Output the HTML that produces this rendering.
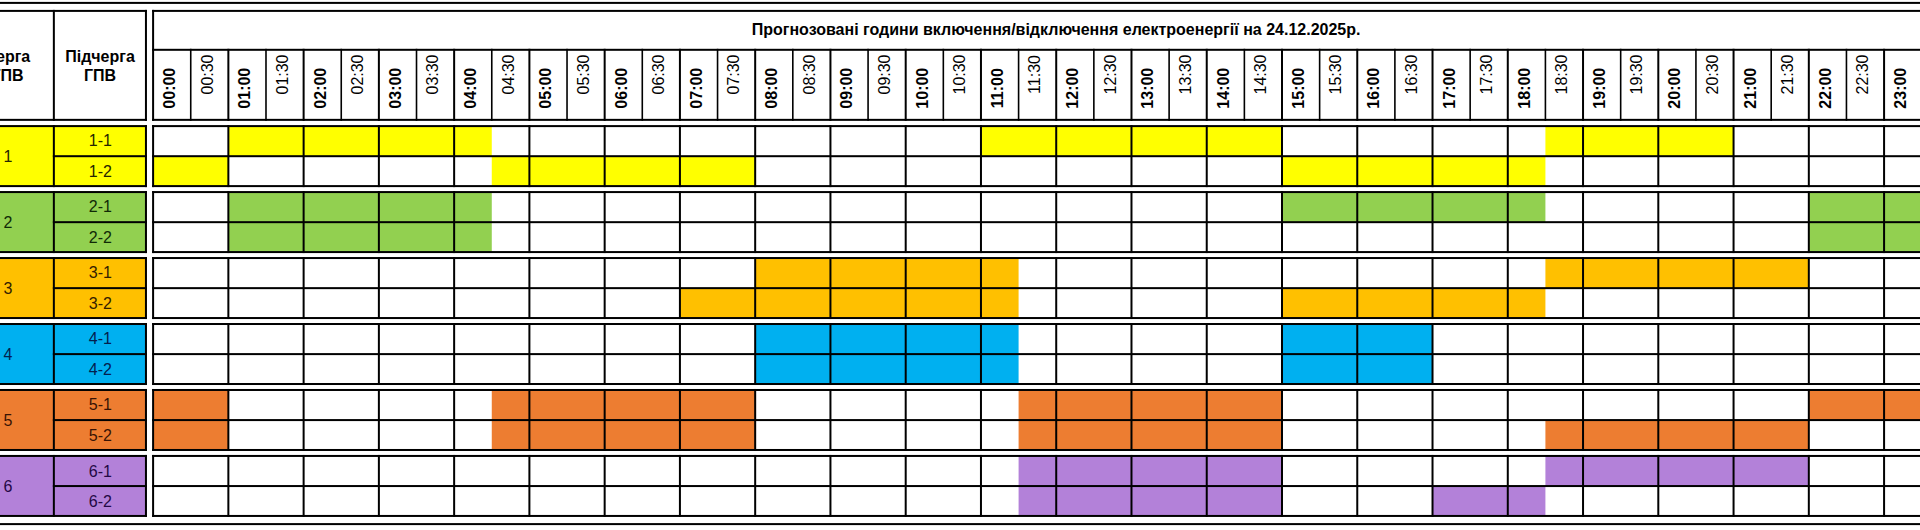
<!DOCTYPE html>
<html lang="uk"><head><meta charset="utf-8"><title>Графік</title>
<style>
html,body{margin:0;padding:0;background:#fff;}
body{width:1920px;height:530px;overflow:hidden;}
svg{display:block;font-family:"Liberation Sans",Arial,sans-serif;fill:#000;}
</style></head><body>
<svg width="1920" height="530" viewBox="0 0 1920 530">
<rect x="0" y="0" width="1920" height="530" fill="#fff"/>
<g>
<rect x="-40.00" y="1.90" width="2001.00" height="2.00" fill="#000"/>
<rect x="-40.00" y="523.10" width="2001.00" height="2.00" fill="#000"/>
<rect x="-40.00" y="125.15" width="186.95" height="60.80" fill="#FFFF00"/>
<rect x="228.36" y="126.15" width="263.41" height="30.00" fill="#FFFF00"/>
<rect x="980.96" y="126.15" width="301.04" height="30.00" fill="#FFFF00"/>
<rect x="1545.41" y="126.15" width="188.15" height="30.00" fill="#FFFF00"/>
<rect x="153.10" y="156.15" width="75.26" height="29.80" fill="#FFFF00"/>
<rect x="491.77" y="156.15" width="263.41" height="29.80" fill="#FFFF00"/>
<rect x="1282.00" y="156.15" width="263.41" height="29.80" fill="#FFFF00"/>
<rect x="-40.00" y="191.12" width="186.95" height="60.80" fill="#92D050"/>
<rect x="228.36" y="192.12" width="263.41" height="30.00" fill="#92D050"/>
<rect x="1282.00" y="192.12" width="263.41" height="30.00" fill="#92D050"/>
<rect x="1808.82" y="192.12" width="150.52" height="30.00" fill="#92D050"/>
<rect x="228.36" y="222.12" width="263.41" height="29.80" fill="#92D050"/>
<rect x="1808.82" y="222.12" width="150.52" height="29.80" fill="#92D050"/>
<rect x="-40.00" y="257.09" width="186.95" height="60.80" fill="#FFC000"/>
<rect x="755.18" y="258.09" width="263.41" height="30.00" fill="#FFC000"/>
<rect x="1545.41" y="258.09" width="263.41" height="30.00" fill="#FFC000"/>
<rect x="679.92" y="288.09" width="338.67" height="29.80" fill="#FFC000"/>
<rect x="1282.00" y="288.09" width="263.41" height="29.80" fill="#FFC000"/>
<rect x="-40.00" y="323.06" width="186.95" height="60.80" fill="#00B0F0"/>
<rect x="755.18" y="324.06" width="263.41" height="30.00" fill="#00B0F0"/>
<rect x="1282.00" y="324.06" width="150.52" height="30.00" fill="#00B0F0"/>
<rect x="755.18" y="354.06" width="263.41" height="29.80" fill="#00B0F0"/>
<rect x="1282.00" y="354.06" width="150.52" height="29.80" fill="#00B0F0"/>
<rect x="-40.00" y="389.03" width="186.95" height="60.80" fill="#ED7D31"/>
<rect x="153.10" y="390.03" width="75.26" height="30.00" fill="#ED7D31"/>
<rect x="491.77" y="390.03" width="263.41" height="30.00" fill="#ED7D31"/>
<rect x="1018.59" y="390.03" width="263.41" height="30.00" fill="#ED7D31"/>
<rect x="1808.82" y="390.03" width="150.52" height="30.00" fill="#ED7D31"/>
<rect x="153.10" y="420.03" width="75.26" height="29.80" fill="#ED7D31"/>
<rect x="491.77" y="420.03" width="263.41" height="29.80" fill="#ED7D31"/>
<rect x="1018.59" y="420.03" width="263.41" height="29.80" fill="#ED7D31"/>
<rect x="1545.41" y="420.03" width="263.41" height="29.80" fill="#ED7D31"/>
<rect x="-40.00" y="455.00" width="186.95" height="60.80" fill="#B381D9"/>
<rect x="1018.59" y="456.00" width="263.41" height="30.00" fill="#B381D9"/>
<rect x="1545.41" y="456.00" width="263.41" height="30.00" fill="#B381D9"/>
<rect x="1018.59" y="486.00" width="263.41" height="29.80" fill="#B381D9"/>
<rect x="1432.52" y="486.00" width="112.89" height="29.80" fill="#B381D9"/>
<rect x="-40.00" y="9.90" width="186.95" height="2.00" fill="#000"/>
<rect x="-40.00" y="118.85" width="186.95" height="2.00" fill="#000"/>
<rect x="52.85" y="9.90" width="2.00" height="110.95" fill="#000"/>
<rect x="144.95" y="9.90" width="2.00" height="110.95" fill="#000"/>
<rect x="152.10" y="9.90" width="1808.90" height="2.00" fill="#000"/>
<rect x="152.10" y="118.85" width="1808.90" height="2.00" fill="#000"/>
<rect x="152.10" y="48.80" width="1808.90" height="2.00" fill="#000"/>
<rect x="152.10" y="9.90" width="2.00" height="110.95" fill="#000"/>
<rect x="227.36" y="48.80" width="2.00" height="72.05" fill="#000"/>
<rect x="302.62" y="48.80" width="2.00" height="72.05" fill="#000"/>
<rect x="377.88" y="48.80" width="2.00" height="72.05" fill="#000"/>
<rect x="453.14" y="48.80" width="2.00" height="72.05" fill="#000"/>
<rect x="528.40" y="48.80" width="2.00" height="72.05" fill="#000"/>
<rect x="603.66" y="48.80" width="2.00" height="72.05" fill="#000"/>
<rect x="678.92" y="48.80" width="2.00" height="72.05" fill="#000"/>
<rect x="754.18" y="48.80" width="2.00" height="72.05" fill="#000"/>
<rect x="829.44" y="48.80" width="2.00" height="72.05" fill="#000"/>
<rect x="904.70" y="48.80" width="2.00" height="72.05" fill="#000"/>
<rect x="979.96" y="48.80" width="2.00" height="72.05" fill="#000"/>
<rect x="1055.22" y="48.80" width="2.00" height="72.05" fill="#000"/>
<rect x="1130.48" y="48.80" width="2.00" height="72.05" fill="#000"/>
<rect x="1205.74" y="48.80" width="2.00" height="72.05" fill="#000"/>
<rect x="1281.00" y="48.80" width="2.00" height="72.05" fill="#000"/>
<rect x="1356.26" y="48.80" width="2.00" height="72.05" fill="#000"/>
<rect x="1431.52" y="48.80" width="2.00" height="72.05" fill="#000"/>
<rect x="1506.78" y="48.80" width="2.00" height="72.05" fill="#000"/>
<rect x="1582.04" y="48.80" width="2.00" height="72.05" fill="#000"/>
<rect x="1657.30" y="48.80" width="2.00" height="72.05" fill="#000"/>
<rect x="1732.56" y="48.80" width="2.00" height="72.05" fill="#000"/>
<rect x="1807.82" y="48.80" width="2.00" height="72.05" fill="#000"/>
<rect x="1883.08" y="48.80" width="2.00" height="72.05" fill="#000"/>
<rect x="1958.34" y="48.80" width="2.00" height="72.05" fill="#000"/>
<rect x="189.93" y="48.80" width="1.60" height="72.05" fill="#000"/>
<rect x="265.19" y="48.80" width="1.60" height="72.05" fill="#000"/>
<rect x="340.45" y="48.80" width="1.60" height="72.05" fill="#000"/>
<rect x="415.71" y="48.80" width="1.60" height="72.05" fill="#000"/>
<rect x="490.97" y="48.80" width="1.60" height="72.05" fill="#000"/>
<rect x="566.23" y="48.80" width="1.60" height="72.05" fill="#000"/>
<rect x="641.49" y="48.80" width="1.60" height="72.05" fill="#000"/>
<rect x="716.75" y="48.80" width="1.60" height="72.05" fill="#000"/>
<rect x="792.01" y="48.80" width="1.60" height="72.05" fill="#000"/>
<rect x="867.27" y="48.80" width="1.60" height="72.05" fill="#000"/>
<rect x="942.53" y="48.80" width="1.60" height="72.05" fill="#000"/>
<rect x="1017.79" y="48.80" width="1.60" height="72.05" fill="#000"/>
<rect x="1093.05" y="48.80" width="1.60" height="72.05" fill="#000"/>
<rect x="1168.31" y="48.80" width="1.60" height="72.05" fill="#000"/>
<rect x="1243.57" y="48.80" width="1.60" height="72.05" fill="#000"/>
<rect x="1318.83" y="48.80" width="1.60" height="72.05" fill="#000"/>
<rect x="1394.09" y="48.80" width="1.60" height="72.05" fill="#000"/>
<rect x="1469.35" y="48.80" width="1.60" height="72.05" fill="#000"/>
<rect x="1544.61" y="48.80" width="1.60" height="72.05" fill="#000"/>
<rect x="1619.87" y="48.80" width="1.60" height="72.05" fill="#000"/>
<rect x="1695.13" y="48.80" width="1.60" height="72.05" fill="#000"/>
<rect x="1770.39" y="48.80" width="1.60" height="72.05" fill="#000"/>
<rect x="1845.65" y="48.80" width="1.60" height="72.05" fill="#000"/>
<rect x="1920.91" y="48.80" width="1.60" height="72.05" fill="#000"/>
<rect x="-40.00" y="125.10" width="186.95" height="2.00" fill="#000"/>
<rect x="-40.00" y="185.10" width="186.95" height="2.00" fill="#000"/>
<rect x="52.85" y="125.10" width="2.00" height="62.00" fill="#000"/>
<rect x="144.95" y="125.10" width="2.00" height="62.00" fill="#000"/>
<rect x="52.85" y="155.20" width="94.10" height="2.00" fill="#000"/>
<rect x="152.10" y="125.10" width="1808.90" height="2.00" fill="#000"/>
<rect x="152.10" y="185.10" width="1808.90" height="2.00" fill="#000"/>
<rect x="152.10" y="155.20" width="1808.90" height="2.00" fill="#000"/>
<rect x="152.10" y="125.10" width="2.00" height="62.00" fill="#000"/>
<rect x="227.36" y="125.10" width="2.00" height="62.00" fill="#000"/>
<rect x="302.62" y="125.10" width="2.00" height="62.00" fill="#000"/>
<rect x="377.88" y="125.10" width="2.00" height="62.00" fill="#000"/>
<rect x="453.14" y="125.10" width="2.00" height="62.00" fill="#000"/>
<rect x="528.40" y="125.10" width="2.00" height="62.00" fill="#000"/>
<rect x="603.66" y="125.10" width="2.00" height="62.00" fill="#000"/>
<rect x="678.92" y="125.10" width="2.00" height="62.00" fill="#000"/>
<rect x="754.18" y="125.10" width="2.00" height="62.00" fill="#000"/>
<rect x="829.44" y="125.10" width="2.00" height="62.00" fill="#000"/>
<rect x="904.70" y="125.10" width="2.00" height="62.00" fill="#000"/>
<rect x="979.96" y="125.10" width="2.00" height="62.00" fill="#000"/>
<rect x="1055.22" y="125.10" width="2.00" height="62.00" fill="#000"/>
<rect x="1130.48" y="125.10" width="2.00" height="62.00" fill="#000"/>
<rect x="1205.74" y="125.10" width="2.00" height="62.00" fill="#000"/>
<rect x="1281.00" y="125.10" width="2.00" height="62.00" fill="#000"/>
<rect x="1356.26" y="125.10" width="2.00" height="62.00" fill="#000"/>
<rect x="1431.52" y="125.10" width="2.00" height="62.00" fill="#000"/>
<rect x="1506.78" y="125.10" width="2.00" height="62.00" fill="#000"/>
<rect x="1582.04" y="125.10" width="2.00" height="62.00" fill="#000"/>
<rect x="1657.30" y="125.10" width="2.00" height="62.00" fill="#000"/>
<rect x="1732.56" y="125.10" width="2.00" height="62.00" fill="#000"/>
<rect x="1807.82" y="125.10" width="2.00" height="62.00" fill="#000"/>
<rect x="1883.08" y="125.10" width="2.00" height="62.00" fill="#000"/>
<rect x="1958.34" y="125.10" width="2.00" height="62.00" fill="#000"/>
<rect x="-40.00" y="191.07" width="186.95" height="2.00" fill="#000"/>
<rect x="-40.00" y="251.07" width="186.95" height="2.00" fill="#000"/>
<rect x="52.85" y="191.07" width="2.00" height="62.00" fill="#000"/>
<rect x="144.95" y="191.07" width="2.00" height="62.00" fill="#000"/>
<rect x="52.85" y="221.17" width="94.10" height="2.00" fill="#000"/>
<rect x="152.10" y="191.07" width="1808.90" height="2.00" fill="#000"/>
<rect x="152.10" y="251.07" width="1808.90" height="2.00" fill="#000"/>
<rect x="152.10" y="221.17" width="1808.90" height="2.00" fill="#000"/>
<rect x="152.10" y="191.07" width="2.00" height="62.00" fill="#000"/>
<rect x="227.36" y="191.07" width="2.00" height="62.00" fill="#000"/>
<rect x="302.62" y="191.07" width="2.00" height="62.00" fill="#000"/>
<rect x="377.88" y="191.07" width="2.00" height="62.00" fill="#000"/>
<rect x="453.14" y="191.07" width="2.00" height="62.00" fill="#000"/>
<rect x="528.40" y="191.07" width="2.00" height="62.00" fill="#000"/>
<rect x="603.66" y="191.07" width="2.00" height="62.00" fill="#000"/>
<rect x="678.92" y="191.07" width="2.00" height="62.00" fill="#000"/>
<rect x="754.18" y="191.07" width="2.00" height="62.00" fill="#000"/>
<rect x="829.44" y="191.07" width="2.00" height="62.00" fill="#000"/>
<rect x="904.70" y="191.07" width="2.00" height="62.00" fill="#000"/>
<rect x="979.96" y="191.07" width="2.00" height="62.00" fill="#000"/>
<rect x="1055.22" y="191.07" width="2.00" height="62.00" fill="#000"/>
<rect x="1130.48" y="191.07" width="2.00" height="62.00" fill="#000"/>
<rect x="1205.74" y="191.07" width="2.00" height="62.00" fill="#000"/>
<rect x="1281.00" y="191.07" width="2.00" height="62.00" fill="#000"/>
<rect x="1356.26" y="191.07" width="2.00" height="62.00" fill="#000"/>
<rect x="1431.52" y="191.07" width="2.00" height="62.00" fill="#000"/>
<rect x="1506.78" y="191.07" width="2.00" height="62.00" fill="#000"/>
<rect x="1582.04" y="191.07" width="2.00" height="62.00" fill="#000"/>
<rect x="1657.30" y="191.07" width="2.00" height="62.00" fill="#000"/>
<rect x="1732.56" y="191.07" width="2.00" height="62.00" fill="#000"/>
<rect x="1807.82" y="191.07" width="2.00" height="62.00" fill="#000"/>
<rect x="1883.08" y="191.07" width="2.00" height="62.00" fill="#000"/>
<rect x="1958.34" y="191.07" width="2.00" height="62.00" fill="#000"/>
<rect x="-40.00" y="257.04" width="186.95" height="2.00" fill="#000"/>
<rect x="-40.00" y="317.04" width="186.95" height="2.00" fill="#000"/>
<rect x="52.85" y="257.04" width="2.00" height="62.00" fill="#000"/>
<rect x="144.95" y="257.04" width="2.00" height="62.00" fill="#000"/>
<rect x="52.85" y="287.14" width="94.10" height="2.00" fill="#000"/>
<rect x="152.10" y="257.04" width="1808.90" height="2.00" fill="#000"/>
<rect x="152.10" y="317.04" width="1808.90" height="2.00" fill="#000"/>
<rect x="152.10" y="287.14" width="1808.90" height="2.00" fill="#000"/>
<rect x="152.10" y="257.04" width="2.00" height="62.00" fill="#000"/>
<rect x="227.36" y="257.04" width="2.00" height="62.00" fill="#000"/>
<rect x="302.62" y="257.04" width="2.00" height="62.00" fill="#000"/>
<rect x="377.88" y="257.04" width="2.00" height="62.00" fill="#000"/>
<rect x="453.14" y="257.04" width="2.00" height="62.00" fill="#000"/>
<rect x="528.40" y="257.04" width="2.00" height="62.00" fill="#000"/>
<rect x="603.66" y="257.04" width="2.00" height="62.00" fill="#000"/>
<rect x="678.92" y="257.04" width="2.00" height="62.00" fill="#000"/>
<rect x="754.18" y="257.04" width="2.00" height="62.00" fill="#000"/>
<rect x="829.44" y="257.04" width="2.00" height="62.00" fill="#000"/>
<rect x="904.70" y="257.04" width="2.00" height="62.00" fill="#000"/>
<rect x="979.96" y="257.04" width="2.00" height="62.00" fill="#000"/>
<rect x="1055.22" y="257.04" width="2.00" height="62.00" fill="#000"/>
<rect x="1130.48" y="257.04" width="2.00" height="62.00" fill="#000"/>
<rect x="1205.74" y="257.04" width="2.00" height="62.00" fill="#000"/>
<rect x="1281.00" y="257.04" width="2.00" height="62.00" fill="#000"/>
<rect x="1356.26" y="257.04" width="2.00" height="62.00" fill="#000"/>
<rect x="1431.52" y="257.04" width="2.00" height="62.00" fill="#000"/>
<rect x="1506.78" y="257.04" width="2.00" height="62.00" fill="#000"/>
<rect x="1582.04" y="257.04" width="2.00" height="62.00" fill="#000"/>
<rect x="1657.30" y="257.04" width="2.00" height="62.00" fill="#000"/>
<rect x="1732.56" y="257.04" width="2.00" height="62.00" fill="#000"/>
<rect x="1807.82" y="257.04" width="2.00" height="62.00" fill="#000"/>
<rect x="1883.08" y="257.04" width="2.00" height="62.00" fill="#000"/>
<rect x="1958.34" y="257.04" width="2.00" height="62.00" fill="#000"/>
<rect x="-40.00" y="323.01" width="186.95" height="2.00" fill="#000"/>
<rect x="-40.00" y="383.01" width="186.95" height="2.00" fill="#000"/>
<rect x="52.85" y="323.01" width="2.00" height="62.00" fill="#000"/>
<rect x="144.95" y="323.01" width="2.00" height="62.00" fill="#000"/>
<rect x="52.85" y="353.11" width="94.10" height="2.00" fill="#000"/>
<rect x="152.10" y="323.01" width="1808.90" height="2.00" fill="#000"/>
<rect x="152.10" y="383.01" width="1808.90" height="2.00" fill="#000"/>
<rect x="152.10" y="353.11" width="1808.90" height="2.00" fill="#000"/>
<rect x="152.10" y="323.01" width="2.00" height="62.00" fill="#000"/>
<rect x="227.36" y="323.01" width="2.00" height="62.00" fill="#000"/>
<rect x="302.62" y="323.01" width="2.00" height="62.00" fill="#000"/>
<rect x="377.88" y="323.01" width="2.00" height="62.00" fill="#000"/>
<rect x="453.14" y="323.01" width="2.00" height="62.00" fill="#000"/>
<rect x="528.40" y="323.01" width="2.00" height="62.00" fill="#000"/>
<rect x="603.66" y="323.01" width="2.00" height="62.00" fill="#000"/>
<rect x="678.92" y="323.01" width="2.00" height="62.00" fill="#000"/>
<rect x="754.18" y="323.01" width="2.00" height="62.00" fill="#000"/>
<rect x="829.44" y="323.01" width="2.00" height="62.00" fill="#000"/>
<rect x="904.70" y="323.01" width="2.00" height="62.00" fill="#000"/>
<rect x="979.96" y="323.01" width="2.00" height="62.00" fill="#000"/>
<rect x="1055.22" y="323.01" width="2.00" height="62.00" fill="#000"/>
<rect x="1130.48" y="323.01" width="2.00" height="62.00" fill="#000"/>
<rect x="1205.74" y="323.01" width="2.00" height="62.00" fill="#000"/>
<rect x="1281.00" y="323.01" width="2.00" height="62.00" fill="#000"/>
<rect x="1356.26" y="323.01" width="2.00" height="62.00" fill="#000"/>
<rect x="1431.52" y="323.01" width="2.00" height="62.00" fill="#000"/>
<rect x="1506.78" y="323.01" width="2.00" height="62.00" fill="#000"/>
<rect x="1582.04" y="323.01" width="2.00" height="62.00" fill="#000"/>
<rect x="1657.30" y="323.01" width="2.00" height="62.00" fill="#000"/>
<rect x="1732.56" y="323.01" width="2.00" height="62.00" fill="#000"/>
<rect x="1807.82" y="323.01" width="2.00" height="62.00" fill="#000"/>
<rect x="1883.08" y="323.01" width="2.00" height="62.00" fill="#000"/>
<rect x="1958.34" y="323.01" width="2.00" height="62.00" fill="#000"/>
<rect x="-40.00" y="388.98" width="186.95" height="2.00" fill="#000"/>
<rect x="-40.00" y="448.98" width="186.95" height="2.00" fill="#000"/>
<rect x="52.85" y="388.98" width="2.00" height="62.00" fill="#000"/>
<rect x="144.95" y="388.98" width="2.00" height="62.00" fill="#000"/>
<rect x="52.85" y="419.08" width="94.10" height="2.00" fill="#000"/>
<rect x="152.10" y="388.98" width="1808.90" height="2.00" fill="#000"/>
<rect x="152.10" y="448.98" width="1808.90" height="2.00" fill="#000"/>
<rect x="152.10" y="419.08" width="1808.90" height="2.00" fill="#000"/>
<rect x="152.10" y="388.98" width="2.00" height="62.00" fill="#000"/>
<rect x="227.36" y="388.98" width="2.00" height="62.00" fill="#000"/>
<rect x="302.62" y="388.98" width="2.00" height="62.00" fill="#000"/>
<rect x="377.88" y="388.98" width="2.00" height="62.00" fill="#000"/>
<rect x="453.14" y="388.98" width="2.00" height="62.00" fill="#000"/>
<rect x="528.40" y="388.98" width="2.00" height="62.00" fill="#000"/>
<rect x="603.66" y="388.98" width="2.00" height="62.00" fill="#000"/>
<rect x="678.92" y="388.98" width="2.00" height="62.00" fill="#000"/>
<rect x="754.18" y="388.98" width="2.00" height="62.00" fill="#000"/>
<rect x="829.44" y="388.98" width="2.00" height="62.00" fill="#000"/>
<rect x="904.70" y="388.98" width="2.00" height="62.00" fill="#000"/>
<rect x="979.96" y="388.98" width="2.00" height="62.00" fill="#000"/>
<rect x="1055.22" y="388.98" width="2.00" height="62.00" fill="#000"/>
<rect x="1130.48" y="388.98" width="2.00" height="62.00" fill="#000"/>
<rect x="1205.74" y="388.98" width="2.00" height="62.00" fill="#000"/>
<rect x="1281.00" y="388.98" width="2.00" height="62.00" fill="#000"/>
<rect x="1356.26" y="388.98" width="2.00" height="62.00" fill="#000"/>
<rect x="1431.52" y="388.98" width="2.00" height="62.00" fill="#000"/>
<rect x="1506.78" y="388.98" width="2.00" height="62.00" fill="#000"/>
<rect x="1582.04" y="388.98" width="2.00" height="62.00" fill="#000"/>
<rect x="1657.30" y="388.98" width="2.00" height="62.00" fill="#000"/>
<rect x="1732.56" y="388.98" width="2.00" height="62.00" fill="#000"/>
<rect x="1807.82" y="388.98" width="2.00" height="62.00" fill="#000"/>
<rect x="1883.08" y="388.98" width="2.00" height="62.00" fill="#000"/>
<rect x="1958.34" y="388.98" width="2.00" height="62.00" fill="#000"/>
<rect x="-40.00" y="454.95" width="186.95" height="2.00" fill="#000"/>
<rect x="-40.00" y="514.95" width="186.95" height="2.00" fill="#000"/>
<rect x="52.85" y="454.95" width="2.00" height="62.00" fill="#000"/>
<rect x="144.95" y="454.95" width="2.00" height="62.00" fill="#000"/>
<rect x="52.85" y="485.05" width="94.10" height="2.00" fill="#000"/>
<rect x="152.10" y="454.95" width="1808.90" height="2.00" fill="#000"/>
<rect x="152.10" y="514.95" width="1808.90" height="2.00" fill="#000"/>
<rect x="152.10" y="485.05" width="1808.90" height="2.00" fill="#000"/>
<rect x="152.10" y="454.95" width="2.00" height="62.00" fill="#000"/>
<rect x="227.36" y="454.95" width="2.00" height="62.00" fill="#000"/>
<rect x="302.62" y="454.95" width="2.00" height="62.00" fill="#000"/>
<rect x="377.88" y="454.95" width="2.00" height="62.00" fill="#000"/>
<rect x="453.14" y="454.95" width="2.00" height="62.00" fill="#000"/>
<rect x="528.40" y="454.95" width="2.00" height="62.00" fill="#000"/>
<rect x="603.66" y="454.95" width="2.00" height="62.00" fill="#000"/>
<rect x="678.92" y="454.95" width="2.00" height="62.00" fill="#000"/>
<rect x="754.18" y="454.95" width="2.00" height="62.00" fill="#000"/>
<rect x="829.44" y="454.95" width="2.00" height="62.00" fill="#000"/>
<rect x="904.70" y="454.95" width="2.00" height="62.00" fill="#000"/>
<rect x="979.96" y="454.95" width="2.00" height="62.00" fill="#000"/>
<rect x="1055.22" y="454.95" width="2.00" height="62.00" fill="#000"/>
<rect x="1130.48" y="454.95" width="2.00" height="62.00" fill="#000"/>
<rect x="1205.74" y="454.95" width="2.00" height="62.00" fill="#000"/>
<rect x="1281.00" y="454.95" width="2.00" height="62.00" fill="#000"/>
<rect x="1356.26" y="454.95" width="2.00" height="62.00" fill="#000"/>
<rect x="1431.52" y="454.95" width="2.00" height="62.00" fill="#000"/>
<rect x="1506.78" y="454.95" width="2.00" height="62.00" fill="#000"/>
<rect x="1582.04" y="454.95" width="2.00" height="62.00" fill="#000"/>
<rect x="1657.30" y="454.95" width="2.00" height="62.00" fill="#000"/>
<rect x="1732.56" y="454.95" width="2.00" height="62.00" fill="#000"/>
<rect x="1807.82" y="454.95" width="2.00" height="62.00" fill="#000"/>
<rect x="1883.08" y="454.95" width="2.00" height="62.00" fill="#000"/>
<rect x="1958.34" y="454.95" width="2.00" height="62.00" fill="#000"/>
</g>
<g>
<text x="1056.10" y="35.30" text-anchor="middle" font-size="16" font-weight="bold">Прогнозовані години включення/відключення електроенергії на 24.12.2025р.</text>
<text x="7.50" y="62.10" text-anchor="middle" font-size="16" font-weight="bold">Черга</text>
<text x="7.50" y="81.00" text-anchor="middle" font-size="16" font-weight="bold">ГПВ</text>
<text x="100.00" y="62.10" text-anchor="middle" font-size="16" font-weight="bold">Підчерга</text>
<text x="100.00" y="81.00" text-anchor="middle" font-size="16" font-weight="bold">ГПВ</text>
<text transform="translate(175.10,88.20) rotate(-90)" text-anchor="middle" font-size="16" font-weight="bold">00:00</text>
<text transform="translate(212.53,74.50) rotate(-90)" text-anchor="middle" font-size="16">00:30</text>
<text transform="translate(250.36,88.20) rotate(-90)" text-anchor="middle" font-size="16" font-weight="bold">01:00</text>
<text transform="translate(287.79,74.50) rotate(-90)" text-anchor="middle" font-size="16">01:30</text>
<text transform="translate(325.62,88.20) rotate(-90)" text-anchor="middle" font-size="16" font-weight="bold">02:00</text>
<text transform="translate(363.05,74.50) rotate(-90)" text-anchor="middle" font-size="16">02:30</text>
<text transform="translate(400.88,88.20) rotate(-90)" text-anchor="middle" font-size="16" font-weight="bold">03:00</text>
<text transform="translate(438.31,74.50) rotate(-90)" text-anchor="middle" font-size="16">03:30</text>
<text transform="translate(476.14,88.20) rotate(-90)" text-anchor="middle" font-size="16" font-weight="bold">04:00</text>
<text transform="translate(513.57,74.50) rotate(-90)" text-anchor="middle" font-size="16">04:30</text>
<text transform="translate(551.40,88.20) rotate(-90)" text-anchor="middle" font-size="16" font-weight="bold">05:00</text>
<text transform="translate(588.83,74.50) rotate(-90)" text-anchor="middle" font-size="16">05:30</text>
<text transform="translate(626.66,88.20) rotate(-90)" text-anchor="middle" font-size="16" font-weight="bold">06:00</text>
<text transform="translate(664.09,74.50) rotate(-90)" text-anchor="middle" font-size="16">06:30</text>
<text transform="translate(701.92,88.20) rotate(-90)" text-anchor="middle" font-size="16" font-weight="bold">07:00</text>
<text transform="translate(739.35,74.50) rotate(-90)" text-anchor="middle" font-size="16">07:30</text>
<text transform="translate(777.18,88.20) rotate(-90)" text-anchor="middle" font-size="16" font-weight="bold">08:00</text>
<text transform="translate(814.61,74.50) rotate(-90)" text-anchor="middle" font-size="16">08:30</text>
<text transform="translate(852.44,88.20) rotate(-90)" text-anchor="middle" font-size="16" font-weight="bold">09:00</text>
<text transform="translate(889.87,74.50) rotate(-90)" text-anchor="middle" font-size="16">09:30</text>
<text transform="translate(927.70,88.20) rotate(-90)" text-anchor="middle" font-size="16" font-weight="bold">10:00</text>
<text transform="translate(965.13,74.50) rotate(-90)" text-anchor="middle" font-size="16">10:30</text>
<text transform="translate(1002.96,88.20) rotate(-90)" text-anchor="middle" font-size="16" font-weight="bold">11:00</text>
<text transform="translate(1040.39,74.50) rotate(-90)" text-anchor="middle" font-size="16">11:30</text>
<text transform="translate(1078.22,88.20) rotate(-90)" text-anchor="middle" font-size="16" font-weight="bold">12:00</text>
<text transform="translate(1115.65,74.50) rotate(-90)" text-anchor="middle" font-size="16">12:30</text>
<text transform="translate(1153.48,88.20) rotate(-90)" text-anchor="middle" font-size="16" font-weight="bold">13:00</text>
<text transform="translate(1190.91,74.50) rotate(-90)" text-anchor="middle" font-size="16">13:30</text>
<text transform="translate(1228.74,88.20) rotate(-90)" text-anchor="middle" font-size="16" font-weight="bold">14:00</text>
<text transform="translate(1266.17,74.50) rotate(-90)" text-anchor="middle" font-size="16">14:30</text>
<text transform="translate(1304.00,88.20) rotate(-90)" text-anchor="middle" font-size="16" font-weight="bold">15:00</text>
<text transform="translate(1341.43,74.50) rotate(-90)" text-anchor="middle" font-size="16">15:30</text>
<text transform="translate(1379.26,88.20) rotate(-90)" text-anchor="middle" font-size="16" font-weight="bold">16:00</text>
<text transform="translate(1416.69,74.50) rotate(-90)" text-anchor="middle" font-size="16">16:30</text>
<text transform="translate(1454.52,88.20) rotate(-90)" text-anchor="middle" font-size="16" font-weight="bold">17:00</text>
<text transform="translate(1491.95,74.50) rotate(-90)" text-anchor="middle" font-size="16">17:30</text>
<text transform="translate(1529.78,88.20) rotate(-90)" text-anchor="middle" font-size="16" font-weight="bold">18:00</text>
<text transform="translate(1567.21,74.50) rotate(-90)" text-anchor="middle" font-size="16">18:30</text>
<text transform="translate(1605.04,88.20) rotate(-90)" text-anchor="middle" font-size="16" font-weight="bold">19:00</text>
<text transform="translate(1642.47,74.50) rotate(-90)" text-anchor="middle" font-size="16">19:30</text>
<text transform="translate(1680.30,88.20) rotate(-90)" text-anchor="middle" font-size="16" font-weight="bold">20:00</text>
<text transform="translate(1717.73,74.50) rotate(-90)" text-anchor="middle" font-size="16">20:30</text>
<text transform="translate(1755.56,88.20) rotate(-90)" text-anchor="middle" font-size="16" font-weight="bold">21:00</text>
<text transform="translate(1792.99,74.50) rotate(-90)" text-anchor="middle" font-size="16">21:30</text>
<text transform="translate(1830.82,88.20) rotate(-90)" text-anchor="middle" font-size="16" font-weight="bold">22:00</text>
<text transform="translate(1868.25,74.50) rotate(-90)" text-anchor="middle" font-size="16">22:30</text>
<text transform="translate(1906.08,88.20) rotate(-90)" text-anchor="middle" font-size="16" font-weight="bold">23:00</text>
<text transform="translate(1943.51,74.50) rotate(-90)" text-anchor="middle" font-size="16">23:30</text>
<text x="8.00" y="161.60" text-anchor="middle" font-size="16" fill="#262600">1</text>
<text x="100.40" y="145.60" text-anchor="middle" font-size="16" fill="#262600">1-1</text>
<text x="100.40" y="176.70" text-anchor="middle" font-size="16" fill="#262600">1-2</text>
<text x="8.00" y="228.10" text-anchor="middle" font-size="16" fill="#102a06">2</text>
<text x="100.40" y="211.60" text-anchor="middle" font-size="16" fill="#102a06">2-1</text>
<text x="100.40" y="242.60" text-anchor="middle" font-size="16" fill="#102a06">2-2</text>
<text x="8.00" y="294.30" text-anchor="middle" font-size="16" fill="#332000">3</text>
<text x="100.40" y="278.20" text-anchor="middle" font-size="16" fill="#332000">3-1</text>
<text x="100.40" y="308.90" text-anchor="middle" font-size="16" fill="#332000">3-2</text>
<text x="8.00" y="360.30" text-anchor="middle" font-size="16" fill="#03204e">4</text>
<text x="100.40" y="344.30" text-anchor="middle" font-size="16" fill="#03204e">4-1</text>
<text x="100.40" y="375.20" text-anchor="middle" font-size="16" fill="#03204e">4-2</text>
<text x="8.00" y="426.20" text-anchor="middle" font-size="16" fill="#381304">5</text>
<text x="100.40" y="410.20" text-anchor="middle" font-size="16" fill="#381304">5-1</text>
<text x="100.40" y="441.30" text-anchor="middle" font-size="16" fill="#381304">5-2</text>
<text x="8.00" y="491.75" text-anchor="middle" font-size="16" fill="#240846">6</text>
<text x="100.40" y="476.95" text-anchor="middle" font-size="16" fill="#240846">6-1</text>
<text x="100.40" y="507.10" text-anchor="middle" font-size="16" fill="#240846">6-2</text>
</g>
</svg>
</body></html>
